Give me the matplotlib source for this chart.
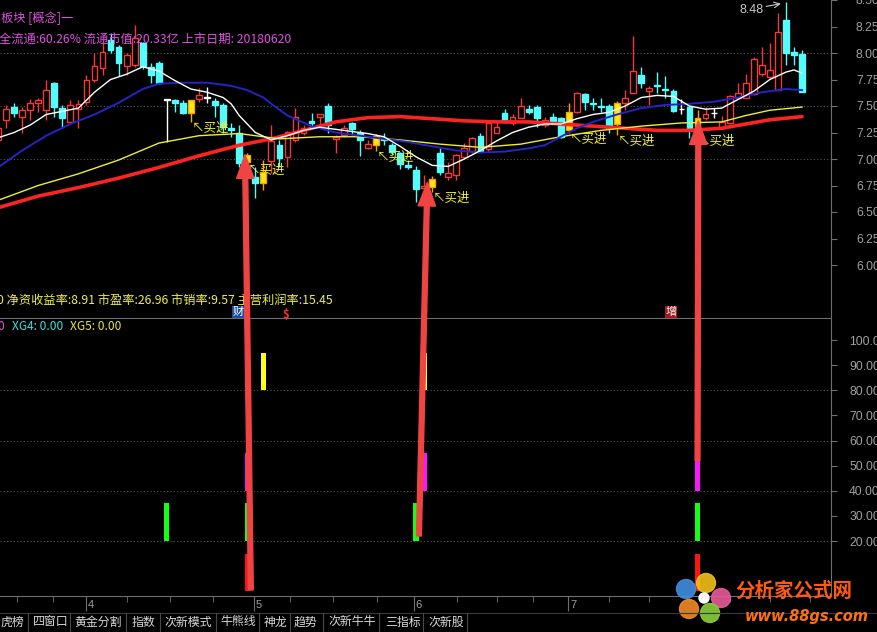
import matplotlib
matplotlib.use('Agg')
import matplotlib.pyplot as plt
from matplotlib.patches import Rectangle, ConnectionPatch, Ellipse
from matplotlib.transforms import blended_transform_factory
from matplotlib.lines import Line2D
import numpy as np

plt.rcParams['font.family'] = ['Noto Sans CJK SC', 'DejaVu Sans']

# ---------------- data ----------------
opens = [7.18, 7.37, 7.49, 7.40, 7.46, 7.53, 7.46, 7.72, 7.48, 7.35,
         7.47, 7.54, 7.75, 7.86, 8.12, 8.06, 7.88, 7.89, 8.09, 7.87,
         7.91, 7.56, 7.56, 7.53, 7.43, 7.57, 7.58, 7.55, 7.51, 7.29,
         7.25, 6.97, 6.83, 6.77, 6.98, 7.13, 7.02, 7.18, 7.25, 7.36,
         7.40, 7.50, 7.19, 7.23, 7.34, 7.25, 7.10, 7.13, 7.20, 7.13,
         7.06, 6.94, 6.90, 6.73, 6.74, 7.06, 6.83, 6.85, 7.02, 7.08,
         7.22, 7.09, 7.25, 7.43, 7.34, 7.39, 7.47, 7.49, 7.32, 7.40,
         7.39, 7.27, 7.44, 7.61, 7.53, 7.50, 7.50, 7.33, 7.53, 7.62,
         7.79, 7.64, 7.70, 7.66, 7.64, 7.47, 7.49, 7.25, 7.39, 7.43,
         7.29, 7.34, 7.58, 7.58, 7.61, 7.80, 7.77, 7.65, 8.31, 8.01,
         7.99]
highs = [7.32, 7.51, 7.53, 7.49, 7.57, 7.58, 7.75, 7.73, 7.51, 7.56,
         7.56, 7.79, 8.00, 8.12, 8.19, 8.08, 8.00, 8.26, 8.10, 7.91,
         7.92, 7.56, 7.57, 7.56, 7.56, 7.67, 7.68, 7.58, 7.53, 7.34,
         7.32, 7.06, 6.92, 6.99, 7.32, 7.18, 7.26, 7.48, 7.32, 7.43,
         7.42, 7.53, 7.23, 7.32, 7.35, 7.27, 7.18, 7.24, 7.25, 7.15,
         7.07, 6.99, 6.93, 6.85, 6.84, 7.10, 6.97, 7.05, 7.15, 7.21,
         7.25, 7.37, 7.37, 7.47, 7.42, 7.58, 7.51, 7.51, 7.40, 7.43,
         7.40, 7.53, 7.63, 7.62, 7.58, 7.58, 7.52, 7.55, 7.65, 8.16,
         7.87, 7.69, 7.82, 7.78, 7.66, 7.57, 7.50, 7.46, 7.49, 7.48,
         7.41, 7.60, 7.72, 7.80, 7.96, 8.06, 8.09, 8.38, 8.48, 8.06,
         8.03]
lows = [7.15, 7.29, 7.40, 7.25, 7.37, 7.44, 7.37, 7.40, 7.29, 7.34,
        7.29, 7.51, 7.73, 7.79, 8.00, 7.78, 7.79, 7.87, 7.85, 7.72,
        7.71, 7.16, 7.44, 7.42, 7.35, 7.54, 7.53, 7.40, 7.25, 7.21,
        6.92, 6.95, 6.63, 6.71, 6.87, 6.92, 6.92, 7.16, 7.23, 7.30,
        7.32, 7.25, 7.06, 7.21, 7.23, 7.03, 7.09, 7.08, 7.13, 7.04,
        6.91, 6.91, 6.59, 6.71, 6.69, 6.85, 6.80, 6.80, 7.01, 7.06,
        7.08, 7.07, 7.25, 7.34, 7.32, 7.39, 7.42, 7.30, 7.30, 7.34,
        7.20, 7.25, 7.43, 7.46, 7.46, 7.44, 7.25, 7.23, 7.46, 7.62,
        7.67, 7.51, 7.62, 7.58, 7.44, 7.42, 7.20, 7.23, 7.37, 7.39,
        7.29, 7.33, 7.58, 7.58, 7.60, 7.78, 7.76, 7.65, 7.89, 7.89,
        7.63]
closes = [7.29, 7.47, 7.43, 7.46, 7.53, 7.56, 7.65, 7.49, 7.39, 7.51,
          7.52, 7.75, 7.88, 8.01, 8.03, 7.91, 7.98, 8.14, 7.88, 7.79,
          7.72, 7.56, 7.53, 7.43, 7.56, 7.60, 7.58, 7.51, 7.30, 7.27,
          6.96, 7.04, 6.77, 6.88, 7.17, 7.01, 7.25, 7.40, 7.29, 7.34,
          7.42, 7.32, 7.21, 7.29, 7.28, 7.18, 7.14, 7.22, 7.18, 7.07,
          6.95, 6.92, 6.72, 6.75, 6.81, 6.88, 6.87, 7.04, 7.10, 7.20,
          7.08, 7.34, 7.30, 7.35, 7.40, 7.50, 7.44, 7.39, 7.37, 7.36,
          7.21, 7.44, 7.62, 7.54, 7.52, 7.49, 7.29, 7.53, 7.58, 7.83,
          7.72, 7.67, 7.69, 7.65, 7.45, 7.47, 7.28, 7.39, 7.42, 7.43,
          7.35, 7.59, 7.62, 7.72, 7.94, 7.89, 7.84, 8.20, 8.00, 7.98,
          7.63]

buy_idx = [24, 31, 33, 47, 54, 71, 77, 87]          # yellow signal candles
buy_label_idx = [24, 31, 47, 54, 71, 77, 87]       # "买进" annotations

ma_white_idx = [0, 2, 4, 6, 8, 10, 12, 14, 16, 18, 20, 22, 24, 26, 28, 29, 30, 32, 34, 36,
                38, 40, 42, 44, 46, 48, 50, 52, 54, 56, 58, 60, 62, 64, 66, 68, 70, 72, 74, 76,
                78, 80, 82, 84, 86, 88, 90, 92, 94, 96, 98, 99, 100]
ma_white = [7.20, 7.25, 7.32, 7.42, 7.45, 7.48, 7.63, 7.75, 7.80, 7.87, 7.83, 7.74, 7.66, 7.63,
            7.58, 7.52, 7.41, 7.25, 7.18, 7.22, 7.27, 7.30, 7.28, 7.26, 7.24, 7.21, 7.12, 7.02,
            6.94, 6.93, 7.00, 7.08, 7.17, 7.25, 7.30, 7.33, 7.33, 7.38, 7.42, 7.44, 7.50, 7.58,
            7.60, 7.59, 7.50, 7.47, 7.48, 7.56, 7.64, 7.75, 7.82, 7.84, 7.81]
ma_blue_idx = [0, 3, 6, 9, 12, 15, 18, 20, 23, 26, 29, 31, 33, 34, 36, 39, 42, 45, 48, 51,
               54, 57, 60, 63, 66, 68, 70, 72, 74, 77, 80, 83, 86, 89, 92, 95, 98, 100]
ma_blue = [6.92, 7.08, 7.22, 7.33, 7.42, 7.53, 7.66, 7.71, 7.72, 7.72, 7.69, 7.65, 7.58, 7.52,
           7.41, 7.31, 7.25, 7.22, 7.19, 7.16, 7.12, 7.08, 7.06, 7.07, 7.10, 7.13, 7.21, 7.29,
           7.35, 7.42, 7.48, 7.51, 7.52, 7.54, 7.58, 7.63, 7.66, 7.65]
ma_yellow_idx = [0, 5, 10, 15, 20, 25, 30, 35, 40, 45, 50, 55, 60, 65, 70, 75, 80, 85, 90, 93, 96, 100]
ma_yellow = [6.61, 6.75, 6.86, 6.99, 7.15, 7.22, 7.24, 7.19, 7.21, 7.21, 7.18, 7.14, 7.11, 7.14,
             7.21, 7.27, 7.31, 7.34, 7.35, 7.41, 7.46, 7.49]
ma_red_idx = [0, 5, 10, 15, 20, 25, 30, 34, 38, 42, 46, 50, 54, 58, 62, 66, 70, 74, 78, 82,
              86, 90, 93, 96, 100]
ma_red = [6.54, 6.65, 6.73, 6.82, 6.92, 7.03, 7.13, 7.19, 7.27, 7.35, 7.39, 7.40, 7.38, 7.36,
          7.35, 7.35, 7.33, 7.31, 7.29, 7.27, 7.27, 7.29, 7.33, 7.37, 7.40]

# lower panel signal sticks: index lists and value ranges
sig_red_idx = [31, 87]
sig_red_range = (0, 15)
sig_green_idx = [21, 31, 52, 87]
sig_green_range = (20, 35)
sig_magenta_idx = [31, 53, 87]
sig_magenta_range = (40, 55)
sig_yellow_idx = [33, 53]
sig_yellow_range = (80, 95)

price_ticks = [6.00, 6.25, 6.50, 6.75, 7.00, 7.25, 7.50, 7.75, 8.00, 8.25, 8.50]
ind_ticks = [20, 30, 40, 50, 60, 70, 80, 90, 100]
ind_tick_labels = ['20.00', '30.00', '40.00', '50.00', '60.00', '70.00', '80.00', '90.00', '100.0']
month_labels = ['4', '5', '6', '7']
month_pos = [10.9, 31.8, 51.7, 70.9]
week_pos = [2.4, 6.8, 10.9, 16.0, 21.4, 26.7, 31.8, 36.3, 41.7, 47.1, 51.7, 57.1,
            62.0, 66.5, 70.9, 76.0, 81.0, 86.0, 91.0, 96.0, 101.0]

# big red arrows: (base index, base indicator value, tip index, tip price)
arrows = [(31.45, 0.5, 30.72, 7.04), (52.35, 22.0, 53.4, 6.78), (87.0, 52.0, 87.1, 7.36)]

tabs = ['虎榜', '四窗口', '黄金分割', '指数', '次新模式', '牛熊线', '神龙', '趋势', '次新牛牛', '三指标', '次新股']

# ---------------- figure ----------------
W, H = 877, 632
fig = plt.figure(figsize=(W / 100, H / 100), dpi=100, facecolor='black')


def fx(x):
    return x / W


def fy(y):
    return 1 - y / H


ax1 = fig.add_axes([0, fy(318), fx(831), 318 / H])
ax2 = fig.add_axes([0, fy(596), fx(831), (596 - 319) / H])

GRID = '#555555'
AXC = '#6e6e6e'
LBL = '#a0a0a0'
for ax in (ax1, ax2):
    ax.set_facecolor('black')
    ax.set_xlim(0.25, 103.6)
    for s in ['left', 'top']:
        ax.spines[s].set_visible(False)
    ax.spines['right'].set_color(AXC)
    ax.spines['bottom'].set_color(AXC)
    ax.yaxis.tick_right()
    ax.tick_params(axis='y', colors=AXC, labelcolor=LBL, length=4, width=0.8,
                   direction='out', labelsize=8.7, pad=14)

ax1.set_ylim(5.5, 8.5)
ax1.set_yticks(price_ticks)
ax1.set_yticklabels(['%.2f' % v for v in price_ticks], fontfamily='Liberation Sans')
ax1.set_xticks([])
for g in [7.0, 7.5, 8.0]:
    ax1.axhline(g, color=GRID, lw=0.8, ls=(0, (1, 2)), zorder=0)

ax2.set_ylim(-1.9, 108.4)
ax2.set_yticks(ind_ticks)
ax2.set_yticklabels(ind_tick_labels, fontfamily='Liberation Sans')
ax2.tick_params(axis='y', pad=9)
for g in [20, 40, 60, 80]:
    ax2.axhline(g, color=GRID, lw=0.8, ls=(0, (1, 2)), zorder=0)
ax2.set_xticks(month_pos)
ax2.set_xticks(week_pos, minor=True)
ax2.tick_params(axis='x', which='major', length=11, color=AXC, labelbottom=False, direction='out')
ax2.tick_params(axis='x', which='minor', length=4, color=AXC, labelbottom=False, direction='out')
tr = blended_transform_factory(ax2.transData, fig.transFigure)
for m, lab in zip(month_pos, month_labels):
    ax2.text(m + 0.25, fy(605), lab, transform=tr, color=LBL, fontsize=8,
             fontfamily='Liberation Sans', ha='left', va='center', clip_on=False)

# ---------------- candles ----------------
RED = '#f23a3a'
CYAN = '#54fcfc'
YEL_FACE = '#ffe81a'
YEL_EDGE = '#ffa200'
bw = 0.72
for i in range(len(opens)):
    o, h, l, c = opens[i], highs[i], lows[i], closes[i]
    if i in buy_idx:
        ec, fc = YEL_EDGE, YEL_FACE
    elif c > o:
        ec, fc = RED, 'black'
    elif c < o:
        ec, fc = CYAN, CYAN
    else:
        ec, fc = 'white', 'white'
    ax1.vlines(i, l, h, color=ec, lw=1.0, zorder=2)
    ax1.add_patch(Rectangle((i - bw / 2, min(o, c)), bw, max(abs(c - o), 0.003),
                            facecolor=fc, edgecolor=ec, lw=1.0, zorder=3))

ax1.plot(ma_red_idx, ma_red, color='#ff2222', lw=2.6, zorder=4, solid_capstyle='round')
ax1.plot(ma_yellow_idx, ma_yellow, color='#eeee33', lw=1.0, zorder=4)
ax1.plot(ma_blue_idx, ma_blue, color='#2424c8', lw=1.4, zorder=4)
ax1.plot(ma_white_idx, ma_white, color='white', lw=1.0, zorder=5)

for i in buy_label_idx:
    ax1.text(i + 0.1, lows[i], '↖买进', color='#f2f030', fontsize=9, ha='left', va='top', zorder=6)

# 8.48 high marker
hi_i = int(np.argmax(highs))
ax1.text(hi_i - 5.8, highs[hi_i] - 0.07, '%.2f' % highs[hi_i], color='#c8c8c8', fontsize=9,
         fontfamily='Liberation Sans', ha='left', va='center')
ax1.annotate('', xy=(hi_i - 0.3, highs[hi_i] - 0.01), xytext=(hi_i - 2.8, highs[hi_i] - 0.045),
             arrowprops=dict(arrowstyle='->', color='#c8c8c8', lw=0.8))

# ---------------- indicator sticks ----------------
for idx, (lo, hi), col in [(sig_red_idx, sig_red_range, '#ff1414'),
                           (sig_green_idx, sig_green_range, '#14ff14'),
                           (sig_magenta_idx, sig_magenta_range, '#ff14ff'),
                           (sig_yellow_idx, sig_yellow_range, '#ffff14')]:
    ax2.bar(idx, hi - lo, bottom=lo, width=0.66, color=col, zorder=3)

# ---------------- big red arrows ----------------
for bi, bv, ti, tp in arrows:
    cp = ConnectionPatch(xyA=(bi, bv), coordsA=ax2.transData, xyB=(ti, tp), coordsB=ax1.transData,
                         arrowstyle='simple,head_length=17,head_width=12.5,tail_width=3.5',
                         mutation_scale=1, color='#f04444', zorder=20)
    fig.add_artist(cp)

# ---------------- header texts ----------------
MAG = '#e050e0'
fig.text(fx(1), fy(18), '板块 [概念]一', color=MAG, fontsize=8.8, ha='left', va='center')
fig.text(fx(-1), fy(39), '全流通:60.26% 流通市值:20.33亿 上市日期: 20180620', color=MAG,
         fontsize=8.8, ha='left', va='center')
fig.text(fx(-3), fy(300), '0 净资收益率:8.91 市盈率:26.96 市销率:9.57 主营利润率:15.45',
         color='#f0f040', fontsize=8.8, ha='left', va='center')
fig.text(fx(238), fy(312), '财', color='white', fontsize=8, ha='center', va='center',
         bbox=dict(facecolor='#1d4e96', edgecolor='none', pad=0.6))
fig.text(fx(286), fy(314), '$', color='#ff3030', fontsize=8, fontweight='bold', ha='center', va='center')
fig.text(fx(671), fy(312), '增', color='white', fontsize=8, ha='center', va='center',
         bbox=dict(facecolor='#a01c1c', edgecolor='none', pad=0.6))

fig.text(fx(-3), fy(327), '0', color=MAG, fontsize=8.6, ha='left', va='center')
fig.text(fx(12), fy(327), 'XG4: 0.00', color='#40e0e0', fontsize=8.6, ha='left', va='center')
fig.text(fx(70), fy(327), 'XG5: 0.00', color='#e8e840', fontsize=8.6, ha='left', va='center')

# ---------------- tab bar ----------------
fig.add_artist(Line2D([0, 1], [fy(613), fy(613)], color='#3a3a3a', lw=0.8))
seps = [28, 70, 126, 160, 216, 259, 290, 323, 379, 423, 467]
starts = [0, 33, 74, 132, 164, 220, 264, 294, 328, 385, 428]
for s in seps:
    fig.add_artist(Line2D([fx(s), fx(s)], [fy(613), fy(632)], color='#4a4a4a', lw=0.8))
for st, t in zip(starts, tabs):
    fig.text(fx(st), fy(622), t, color='#d8d8d8', fontsize=8.6, ha='left', va='center')

# ---------------- watermark ----------------
cx, cy = 704, 598
petals = [('#3f8fe0', -18, -9), ('#f2c01a', 2, -15), ('#e85a9a', 17, 0), ('#8bcf3a', 6, 15),
          ('#f08a2a', -15, 11)]
for col, dx, dy in petals:
    fig.add_artist(Ellipse((fx(cx + dx), fy(cy + dy)), 19 / W, 19 / H, color=col, alpha=0.9))
fig.add_artist(Ellipse((fx(cx), fy(cy)), 10 / W, 10 / H, color='white'))
fig.text(fx(735), fy(591), '分析家公式网', color='#ff5a10', fontsize=14, fontweight='bold',
         ha='left', va='center')
fig.text(fx(745), fy(617), 'www.88gs.com', color='#ff7010', fontsize=10.5, fontweight='bold',
         fontstyle='italic', fontfamily='DejaVu Sans', ha='left', va='center')

fig.savefig('out.png', dpi=100, facecolor='black')
